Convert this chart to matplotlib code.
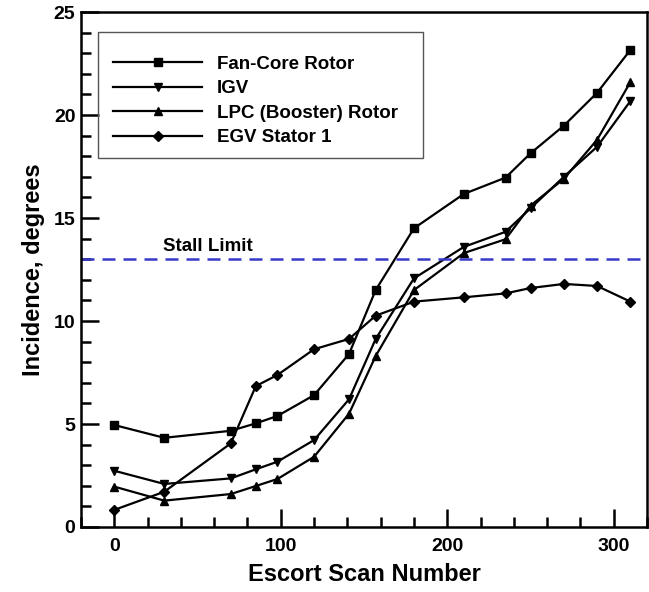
import matplotlib.pyplot as plt
from matplotlib.patches import Rectangle
from matplotlib.ticker import MultipleLocator

plt.rcParams['font.family'] = ['Liberation Sans', 'DejaVu Sans']
plt.rcParams['font.weight'] = 'bold'

# scan numbers and incidence per blade row
scan = [0, 30, 70, 85, 98, 120, 141, 157, 180, 210, 235, 250, 270, 290, 310]
fan_core = [4.95, 4.33, 4.67, 5.03, 5.39, 6.4, 8.4, 11.5, 14.5, 16.17, 16.96, 18.14, 19.48, 21.08, 23.16]
igv = [2.73, 2.09, 2.36, 2.8, 3.17, 4.22, 6.2, 9.13, 12.07, 13.6, 14.33, 15.47, 17.0, 18.46, 20.68]
lpc = [1.96, 1.28, 1.6, 1.99, 2.33, 3.41, 5.5, 8.3, 11.5, 13.3, 13.97, 15.6, 16.9, 18.8, 21.6]
egv = [0.83, 1.71, 4.06, 6.84, 7.38, 8.63, 9.13, 10.26, 10.94, 11.15, 11.34, 11.6, 11.8, 11.7, 10.94]
stall_limit = 13.0

fig = plt.figure(figsize=(6.49, 5.92), dpi=100)
ax = fig.add_axes([0.1248, 0.1098, 0.8722, 0.8699])

ax.plot(scan, fan_core, 'k-', marker='s', ms=6, lw=1.6, label='Fan-Core Rotor')
ax.plot(scan, igv, 'k-', marker='v', ms=6, lw=1.6, label='IGV')
ax.plot(scan, lpc, 'k-', marker='^', ms=6, lw=1.6, label='LPC (Booster) Rotor')
ax.plot(scan, egv, 'k-', marker='D', ms=5.5, lw=1.6, label='EGV Stator 1')

ax.axhline(stall_limit, color='#3838c8', lw=1.8, dashes=(5.2, 3.2))
ax.text(29, stall_limit + 0.22, 'Stall Limit', fontsize=13.5, fontweight='bold',
        va='bottom', ha='left')

ax.set_xlim(-20, 320)
ax.set_ylim(0, 25)
ax.xaxis.set_major_locator(MultipleLocator(100))
ax.xaxis.set_minor_locator(MultipleLocator(20))
ax.yaxis.set_major_locator(MultipleLocator(5))
ax.yaxis.set_minor_locator(MultipleLocator(1))
ax.tick_params(which='both', direction='in', width=1.8, labelsize=14)
ax.tick_params(axis='x', pad=8)
ax.tick_params(axis='y', pad=4)
ax.tick_params(which='major', length=13)
ax.tick_params(which='minor', length=7)
for s in ax.spines.values():
    s.set_linewidth(1.8)

ax.set_xlabel('Escort Scan Number', fontsize=17, fontweight='bold', labelpad=6)
ax.set_ylabel('Incidence, degrees', fontsize=17, fontweight='bold', labelpad=6)

# legend box drawn separately so it can be wider than its entries
ax.add_patch(Rectangle((0.030, 0.7165), 0.574, 0.2445, transform=ax.transAxes,
                       fill=False, edgecolor='#555555', lw=1.0, zorder=4))
leg = ax.legend(loc='upper left', bbox_to_anchor=(0.0565, 0.915), fontsize=13.5,
                frameon=False, handlelength=4.75, handletextpad=0.8,
                labelspacing=0.39, borderpad=0, borderaxespad=0)
for t in leg.get_texts():
    t.set_fontweight('bold')

fig.savefig('out.png', dpi=100)
